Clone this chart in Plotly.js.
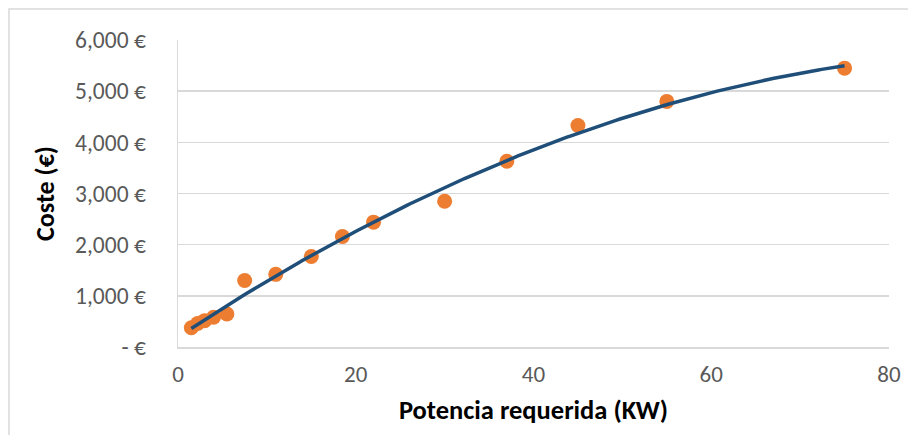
<!DOCTYPE html>
<html><head><meta charset="utf-8">
<script src="https://cdn.plot.ly/plotly-3.0.1.min.js"></script>
<style>body{margin:0;background:#fff}#c{width:908px;height:435px}</style>
</head><body><div id="c"></div>
<script>
const potencia = [1.5, 2.2, 3, 4, 5.5, 7.5, 11, 15, 18.5, 22, 30, 37, 45, 55, 75];
const coste = [375, 460, 515, 580, 645, 1300, 1420, 1770, 2160, 2440, 2850, 3630, 4330, 4800, 5450];
const yTickVals = [0, 1000, 2000, 3000, 4000, 5000, 6000];
const yTickText = ['- €', '1,000 €', '2,000 €', '3,000 €', '4,000 €', '5,000 €', '6,000 €'];
const xTickVals = [0, 20, 40, 60, 80];

// Excel-style polynomial (order 2) trendline: least-squares fit of the data
function polyfit2(xs, ys) {
  let S = [0,0,0,0,0], T = [0,0,0];
  for (let i = 0; i < xs.length; i++) {
    let p = 1;
    for (let k = 0; k < 5; k++) { S[k] += p; if (k < 3) T[k] += p * ys[i]; p *= xs[i]; }
  }
  const A = [[S[0],S[1],S[2],T[0]],[S[1],S[2],S[3],T[1]],[S[2],S[3],S[4],T[2]]];
  for (let i = 0; i < 3; i++) {
    for (let j = i+1; j < 3; j++) {
      const f = A[j][i]/A[i][i];
      for (let k = i; k < 4; k++) A[j][k] -= f*A[i][k];
    }
  }
  const c = [0,0,0];
  for (let i = 2; i >= 0; i--) {
    let s = A[i][3];
    for (let k = i+1; k < 3; k++) s -= A[i][k]*c[k];
    c[i] = s/A[i][i];
  }
  return c;
}
const cf = polyfit2(potencia, coste);
const xmin = Math.min(...potencia), xmax = Math.max(...potencia);
const tx = [], ty = [];
for (let i = 0; i <= 200; i++) {
  const x = xmin + (xmax - xmin) * i / 200;
  tx.push(x); ty.push(cf[0] + cf[1]*x + cf[2]*x*x);
}

const font = 'Carlito, Calibri, Lato, sans-serif';
const data = [
  {x: potencia, y: coste, type: 'scatter', mode: 'markers',
   marker: {color: '#ED7D31', size: 15}, hoverinfo: 'x+y'},
  {x: tx, y: ty, type: 'scatter', mode: 'lines',
   line: {color: '#1F4E79', width: 3.5}, hoverinfo: 'skip'}
];
const layout = {
  width: 908, height: 435,
  margin: {l: 178, r: 19, t: 40, b: 88},
  paper_bgcolor: '#fff', plot_bgcolor: '#fff',
  showlegend: false,
  font: {family: font, color: '#595959', size: 23},
  xaxis: {range: [0, 80], tickvals: xTickVals, showgrid: false, zeroline: false,
    showline: true, linecolor: '#D9D9D9', linewidth: 1.5, ticks: '',
    tickfont: {size: 23, color: '#595959'}, ticklabelstandoff: 6,
    title: {text: 'Potencia requerida (KW)', font: {size: 26.5, color: '#000', family: font, weight: 'bold'}, standoff: 13}},
  yaxis: {range: [0, 6000], tickvals: yTickVals, ticktext: yTickText,
    showgrid: true, gridcolor: '#D9D9D9', gridwidth: 1.5, zeroline: false,
    showline: true, linecolor: '#D9D9D9', linewidth: 1.5, ticks: '',
    tickfont: {size: 23.5, color: '#595959'}, ticklabelstandoff: 26,
    title: {text: 'Coste (€)', font: {size: 26, color: '#000', family: font, weight: 'bold'}, standoff: 13}},
  shapes: [{type: 'rect', xref: 'paper', yref: 'paper',
    x0: -0.2377, x1: 1.2, y0: -0.5, y1: 1.101,
    line: {color: '#D9D9D9', width: 1.5}, fillcolor: 'rgba(0,0,0,0)', layer: 'below'}]
};
Plotly.newPlot('c', data, layout, {displayModeBar: false, staticPlot: true});
</script></body></html>
